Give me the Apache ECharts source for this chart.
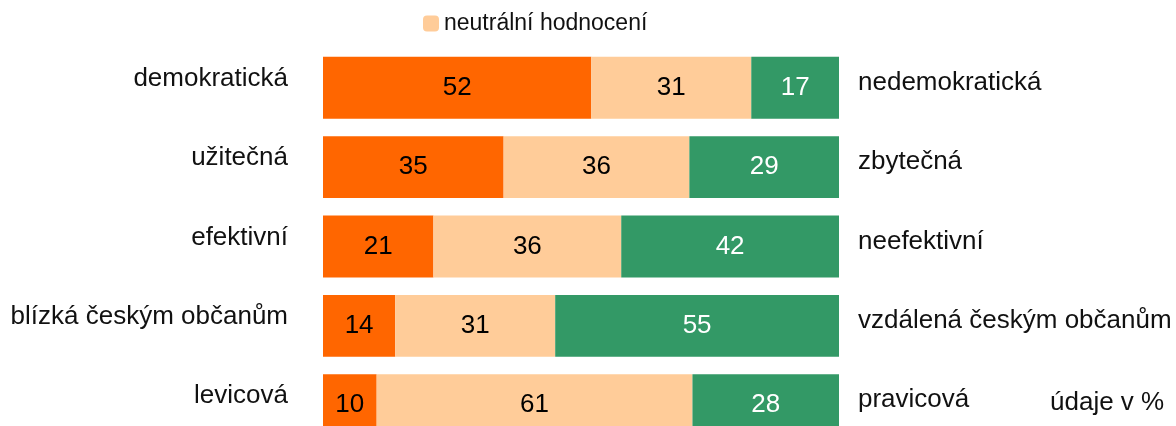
<!DOCTYPE html>
<html>
<head>
<meta charset="utf-8">
<script src="https://cdn.jsdelivr.net/npm/echarts@6/dist/echarts.min.js"></script>
<style>
  html, body { margin: 0; padding: 0; background: #fff; overflow: hidden; }
  /* taller than the window: the last bar runs off the bottom edge like in the original */
  #chart { width: 1176px; height: 445px; }
</style>
</head>
<body>
<div id="chart"></div>
<script>
const leftLabels = ['demokratická', 'užitečná', 'efektivní', 'blízká českým občanům', 'levicová']
const rightLabels = ['nedemokratická', 'zbytečná', 'neefektivní', 'vzdálená českým občanům', 'pravicová']
const positive = [52, 35, 21.4, 14, 10.4]
const neutral = [31, 36, 36.4, 31, 61.2]
const negative = [17, 29, 42.2, 55, 28.4]

const chart = echarts.init(document.getElementById('chart'))
const font = 'Liberation Sans, Arial, sans-serif'

function barLabel(color) {
  return {
    show: true,
    position: 'inside',
    color: color,
    fontFamily: font,
    fontSize: 26,
    formatter: p => Math.round(p.value)
  }
}

chart.setOption({
  animation: false,
  color: ['#FF6600', '#FFCC99', '#339966'],
  legend: {
    data: ['neutrální hodnocení'],
    left: 418,
    top: 7,
    itemWidth: 16,
    itemHeight: 16,
    itemGap: 7,
    textStyle: { fontFamily: font, fontSize: 23, color: '#111' }
  },
  grid: { left: 323, right: 337, top: 48, bottom: 0, containLabel: false },
  xAxis: { type: 'value', min: 0, max: 100, show: false },
  yAxis: [
    {
      type: 'category',
      data: leftLabels,
      inverse: true,
      axisLine: { show: false },
      axisTick: { show: false },
      axisLabel: {
        margin: 35,
        fontFamily: font,
        fontSize: 26,
        color: '#111',
        verticalAlign: 'bottom',
        lineHeight: 18
      }
    },
    {
      type: 'category',
      data: rightLabels,
      inverse: true,
      position: 'right',
      axisLine: { show: false },
      axisTick: { show: false },
      axisLabel: {
        margin: 19,
        fontFamily: font,
        fontSize: 26,
        color: '#111',
        verticalAlign: 'bottom',
        lineHeight: 10
      }
    }
  ],
  graphic: [
    {
      type: 'text',
      left: 1050,
      top: 390,
      style: { text: 'údaje v %', font: '26px ' + font, fill: '#111' }
    }
  ],
  series: [
    {
      name: 'pozitivní hodnocení',
      type: 'bar',
      stack: 'all',
      barWidth: '78%',
      label: barLabel('#000'),
      data: positive
    },
    {
      name: 'neutrální hodnocení',
      type: 'bar',
      stack: 'all',
      label: barLabel('#000'),
      data: neutral
    },
    {
      name: 'negativní hodnocení',
      type: 'bar',
      stack: 'all',
      label: barLabel('#fff'),
      data: negative
    }
  ]
})
</script>
</body>
</html>
